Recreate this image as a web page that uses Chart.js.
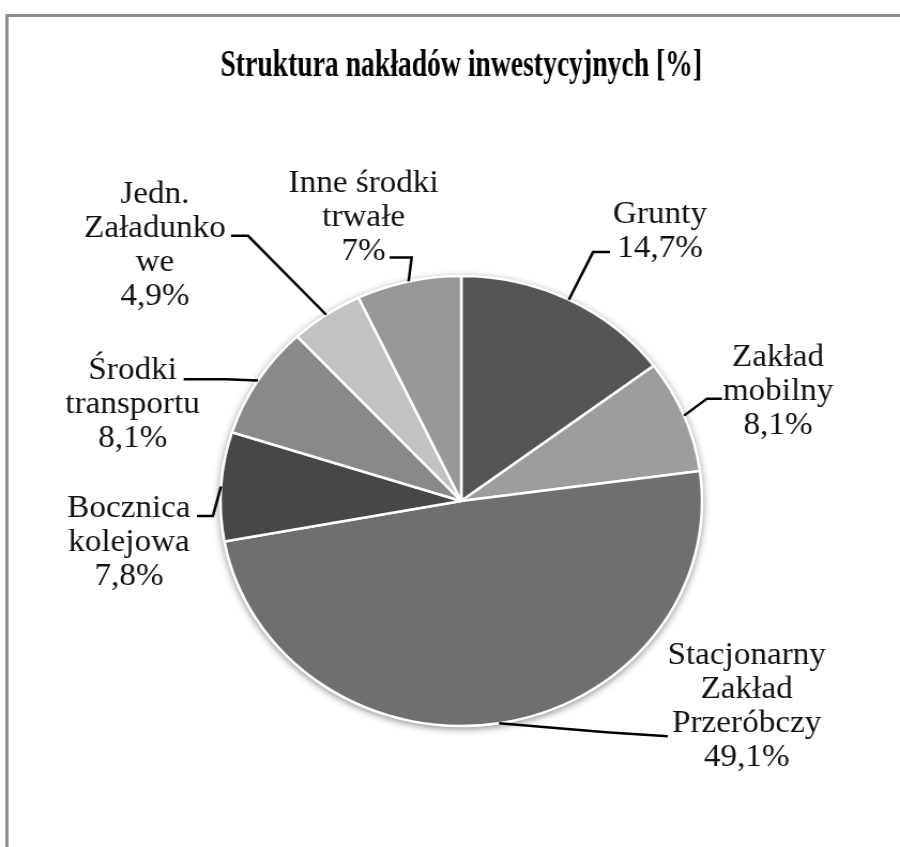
<!DOCTYPE html>
<html>
<head>
<meta charset="utf-8">
<script src="https://cdn.jsdelivr.net/npm/chart.js@4/dist/chart.umd.min.js"></script>
<style>
  html, body { margin: 0; padding: 0; background: #fff; }
</style>
</head>
<body>
<!-- the original picture is stretched a little sideways, so the canvas is too -->
<canvas id="wykres" width="841" height="847" style="width:900px;height:847px;display:block"></canvas>
<script>
const tytul = 'Struktura nakładów inwestycyjnych [%]';
const kategorie = [
    ['Grunty'],
    ['Zakład', 'mobilny'],
    ['Stacjonarny', 'Zakład', 'Przeróbczy'],
    ['Bocznica', 'kolejowa'],
    ['Środki', 'transportu'],
    ['Jedn.', 'Załadunko', 'we'],
    ['Inne środki', 'trwałe']
];
const wartosci = [14.7, 8.1, 49.1, 7.8, 8.1, 4.9, 7.0];
const etykietyWartosci = ['14,7%', '8,1%', '49,1%', '7,8%', '8,1%', '4,9%', '7%'];

const kolory = ['#555555', '#9d9d9d', '#6f6f6f', '#474747', '#898989', '#c2c2c2', '#979797'];

// leader line bends and label offsets, measured from the slice's outer edge midpoint
const odnosniki = [
    { lamanie: [22.6, -47.6], koniec: [38.5, -47.6], tekst: [85.2, -76.6] },
    { lamanie: [21.5, -17], koniec: [35.6, -17], tekst: [87.9, -49.9] },
    { lamanie: [100, 9], koniec: [157.6, 13], tekst: [231.4, -58.9] },
    { lamanie: [-7.5, 29.4], koniec: [-22.5, 29.4], tekst: [-86, 30.4] },
    { lamanie: [-30, -1.2], koniec: [-69.4, -1.2], tekst: [-117.1, -1.4] },
    { lamanie: [-73, -78.9], koniec: [-88.9, -78.9], tekst: [-160, -111.9] },
    { lamanie: [2.9, -23.9], koniec: [-17.7, -23.9], tekst: [-42, -89.9] }
];
const odstepLinii = 34;

const ramka = {
    id: 'ramka',
    beforeDraw(chart) {
        const ctx = chart.ctx;
        ctx.save();
        ctx.fillStyle = '#ffffff';
        ctx.fillRect(0, 0, chart.width, chart.height);
        ctx.strokeStyle = '#8c8c8c';
        ctx.lineWidth = 3;
        ctx.beginPath();
        ctx.moveTo(6.5, chart.height + 5);
        ctx.lineTo(6.5, 15.5);
        ctx.lineTo(chart.width + 5, 15.5);
        ctx.stroke();
        ctx.restore();
    }
};

const etykiety = {
    id: 'etykiety',
    beforeDatasetsDraw(chart) {
        // soft shadow under the whole pie
        const el = chart.getDatasetMeta(0).data[0];
        if (!el) return;
        const ctx = chart.ctx;
        ctx.save();
        ctx.shadowColor = 'rgba(0,0,0,0.45)';
        ctx.shadowBlur = 7;
        ctx.shadowOffsetY = 2;
        ctx.fillStyle = '#ffffff';
        ctx.beginPath();
        ctx.arc(el.x, el.y, el.outerRadius + 1, 0, Math.PI * 2);
        ctx.fill();
        ctx.restore();
    },
    afterDatasetsDraw(chart) {
        const ctx = chart.ctx;
        const meta = chart.getDatasetMeta(0);
        ctx.save();
        meta.data.forEach((arc, i) => {
            const p = arc.getProps(['x', 'y', 'startAngle', 'endAngle', 'outerRadius'], true);
            const srodek = (p.startAngle + p.endAngle) / 2;
            const ex = p.x + p.outerRadius * Math.cos(srodek);
            const ey = p.y + p.outerRadius * Math.sin(srodek);
            const o = odnosniki[i];

            ctx.strokeStyle = '#000000';
            ctx.lineWidth = 2.5;
            ctx.lineJoin = 'miter';
            ctx.beginPath();
            ctx.moveTo(ex, ey);
            ctx.lineTo(ex + o.lamanie[0], ey + o.lamanie[1]);
            ctx.lineTo(ex + o.koniec[0], ey + o.koniec[1]);
            ctx.stroke();

            const linie = kategorie[i].concat([etykietyWartosci[i]]);
            ctx.fillStyle = '#111111';
            ctx.font = '31px "Liberation Serif", "Times New Roman", serif';
            ctx.textAlign = 'center';
            ctx.textBaseline = 'alphabetic';
            linie.forEach((t, k) => {
                ctx.fillText(t, ex + o.tekst[0], ey + o.tekst[1] + k * odstepLinii);
            });
        });
        ctx.restore();
    }
};

const config = {
    type: 'pie',
    data: {
        labels: kategorie.map(k => k.join(' ')),
        datasets: [{
            data: wartosci,
            backgroundColor: kolory,
            borderColor: '#ffffff',
            borderWidth: 2.5
        }]
    },
    options: {
        responsive: false,
        animation: false,
        radius: 225,
        layout: {
            padding: { left: 206, right: 185, top: 0, bottom: 121 }
        },
        plugins: {
            legend: { display: false },
            tooltip: { enabled: false },
            title: {
                display: true,
                text: tytul,
                color: '#000000',
                font: { family: '"Liberation Serif", "Times New Roman", serif', size: 37, weight: 'bold', lineHeight: 1.2 },
                padding: { top: 44, bottom: 187.6 }
            }
        }
    },
    plugins: [ramka, etykiety]
};

new Chart(document.getElementById('wykres'), config);
</script>
</body>
</html>
